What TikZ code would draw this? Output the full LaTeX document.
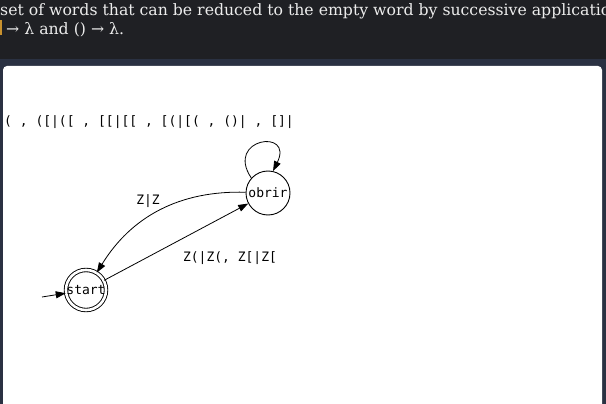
\documentclass[tikz,border=0pt]{standalone}
\usepackage{xcolor}
\usepackage{tikz}
\usetikzlibrary{arrows.meta}
\usepackage{fontspec}
\setmonofont{DejaVu Sans Mono}
\newfontfamily\pageserif{DejaVu Serif}
\definecolor{pagedark}{HTML}{1f2024}
\definecolor{pagenavy}{HTML}{2a3142}
\definecolor{pagetext}{HTML}{ececec}
\definecolor{codeorange}{HTML}{c8912e}

\begin{document}
\begin{tikzpicture}[x=1pt,y=-1pt,
    state/.style={draw,circle,line width=0.9pt,inner sep=0pt,minimum size=44pt,
      font=\ttfamily\fontsize{13}{15}\selectfont},
    accepting/.style={double,double distance=2.6pt,minimum size=39.5pt},
    arr/.style={line width=0.8pt,-{Triangle[length=10pt,width=7pt]}},
    lbl/.style={font=\ttfamily\fontsize{13}{15}\selectfont},
    intro/.style={anchor=base west,text=pagetext,inner sep=0pt,
      font=\pageserif\fontsize{15.7}{18}\selectfont}]
  \useasboundingbox (0,0) rectangle (606,404);
  % page around the panel
  \fill[pagedark] (0,0) rectangle (606,404);
  \fill[pagenavy] (0,59) rectangle (606,404);
  \fill[white,rounded corners=4pt] (3,66) rectangle (602,410);
  \fill[codeorange] (0,20) rectangle (2,35);
  \begin{scope}
    \clip (0,0) rectangle (606,59);
    \node[intro] (intro) at (0,16) {set of words that can be reduced to the empty word by successive applicatio};
  \end{scope}
  \node[intro] (rules) at (6,35) {→ λ and () → λ.};
  % alphabet line
  \node[lbl,anchor=west,inner sep=0pt] (alpha) at (4,122) {( , ([|([ , [[|[[ , [(|[( , ()| , []|};
  % states
  \node[state,accepting] (start) at (86,290) {start};
  \node[state] (obrir) at (268,193) {obrir};
  \coordinate (entry) at (42,297);
  \draw[arr] (entry) -- (start);
  \draw[arr] (start) -- (obrir);
  \draw[arr] (obrir) to[bend right=30] (start);
  \draw[arr] (obrir.138) to[out=124,in=64,looseness=5.4] (obrir.77);
  \node[lbl] (lz) at (148,201) {Z|Z};
  \node[lbl] (lzz) at (230,258) {Z(|Z(, Z[|Z[};
\end{tikzpicture}
\end{document}
